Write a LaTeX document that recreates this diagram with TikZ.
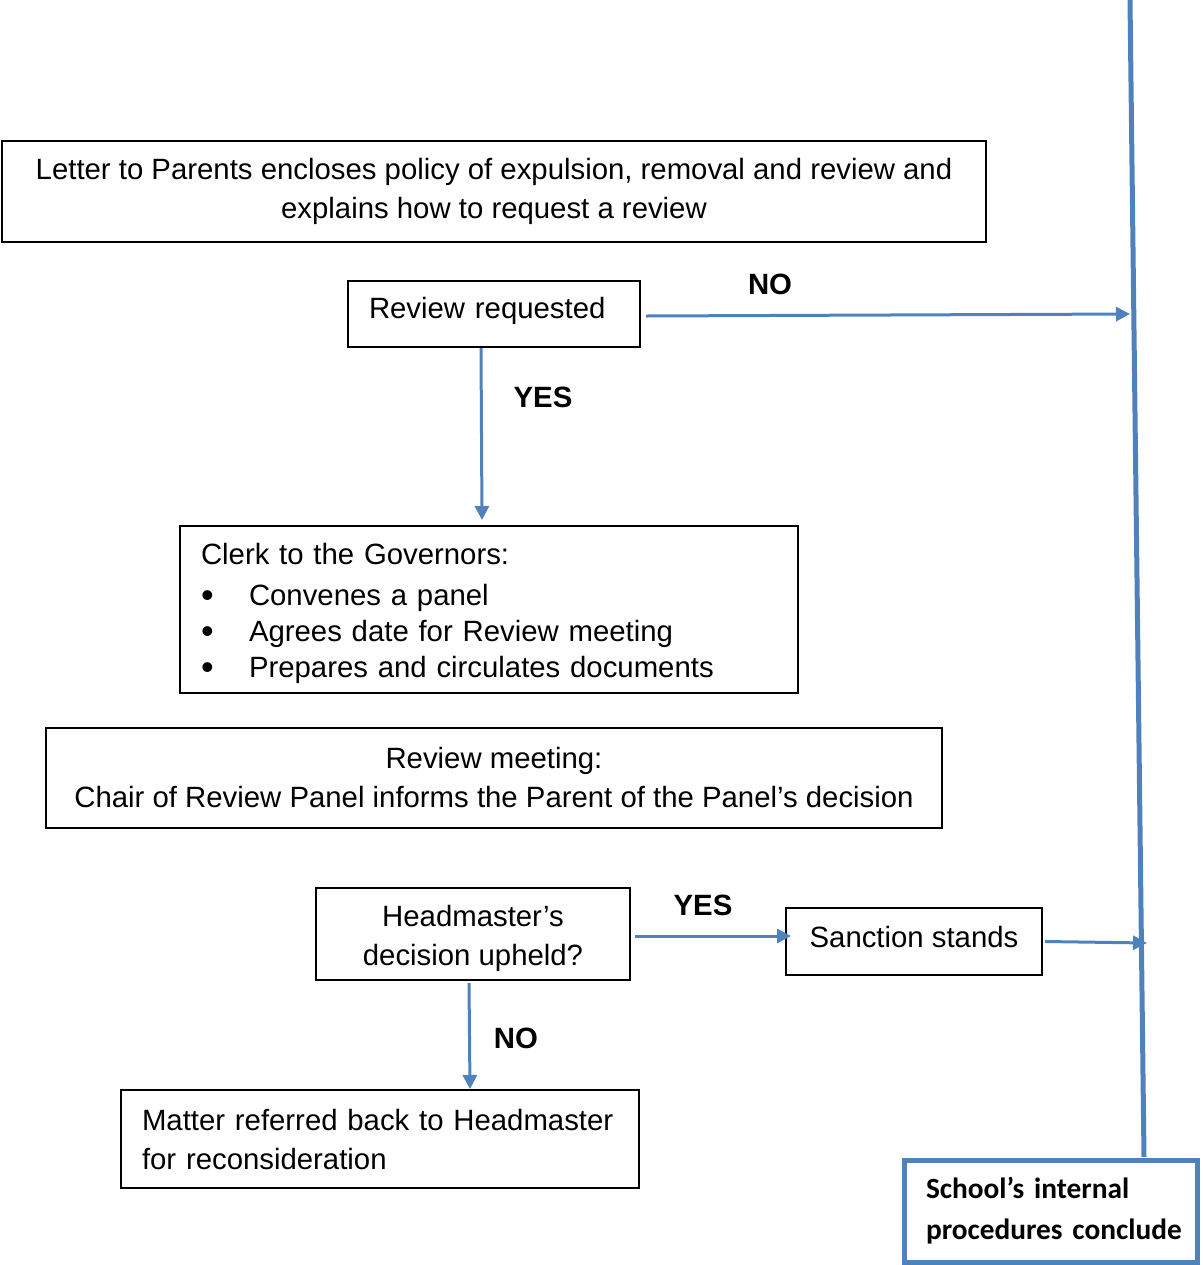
\documentclass[tikz,border=0pt]{standalone}
\usepackage{fontspec}
\setmainfont{Liberation Sans}
\newfontfamily\carlito{Carlito}
\usepackage{tikz}
\usetikzlibrary{arrows.meta}

\definecolor{officeblue}{RGB}{79,129,189}
\newcommand{\bulletitem}{\makebox[24pt][l]{\raisebox{-1pt}{\fontsize{18}{18}\selectfont\textbullet}}}

\begin{document}
\begin{tikzpicture}[x=0.5pt, y=-0.5pt, font=\fontsize{14.67}{19.5}\selectfont]
      \tikzstyle{box} = [rectangle, draw=black, line width=1pt, inner sep=0pt, align=center]
      \tikzstyle{leftbox} = [box, inner xsep=10.5pt, align=left]
      \tikzstyle{schoolbox} = [rectangle, draw=officeblue, line width=2.5pt, inner sep=0pt, inner xsep=10.75pt, align=left, font=\carlito\bfseries\fontsize{14.67}{20.5}\selectfont]
      \tikzstyle{answer} = [font=\bfseries\fontsize{14.67}{19.5}\selectfont]
      \tikzstyle{arrow} = [draw=officeblue, line width=1.5pt, -{Triangle[length=7pt, width=7pt]}]
      \tikzstyle{mainline} = [draw=officeblue, line width=2.5pt]

      \useasboundingbox (0,0) rectangle (1203,1265);

      \node (letter) [box, minimum width=492pt, minimum height=50.5pt] at (494,191.5) {Letter to Parents encloses policy of expulsion, removal and review and\\explains how to request a review};
      \node (request) [leftbox, minimum width=146pt, minimum height=33pt, text width=125pt, text depth=6pt] at (494,314) {Review requested};
      \node (clerk) [leftbox, minimum width=309pt, minimum height=83.5pt, text width=288pt, text height=14.7pt, text depth=59.6pt, font=\fontsize{14.67}{18}\selectfont] at (489,609.5) {Clerk to the Governors:\\[2.5pt]
            \bulletitem Convenes a panel\\
            \bulletitem Agrees date for Review meeting\\
            \bulletitem Prepares and circulates documents};
      \node (meeting) [box, minimum width=448pt, minimum height=50pt] at (494,778) {Review meeting:\\Chair of Review Panel informs the Parent of the Panel’s decision};
      \node (upheld) [box, minimum width=157pt, minimum height=46pt, text height=34.2pt, text depth=3.1pt] at (473,934) {Headmaster’s\\decision upheld?};
      \node (sanction) [box, minimum width=128pt, minimum height=33.5pt, text depth=5pt] at (914,941.5) {Sanction stands};
      \node (matter) [leftbox, minimum width=258pt, minimum height=49pt, text width=238pt] at (380,1139) {Matter referred back to Headmaster\\for reconsideration};
      \node (school) [schoolbox, minimum width=146.5pt, minimum height=51pt, text width=125pt] at (1051,1211) {\mbox{School’s internal}\\\mbox{procedures conclude}};

      % answers
      \node (noRequest) [answer] at (770,284) {NO};
      \node (yesRequest) [answer] at (543,397) {YES};
      \node (yesUpheld) [answer] at (703,905) {YES};
      \node (noUpheld) [answer] at (516,1038) {NO};

      % line down to the end
      \coordinate (top) at (1130,0);
      \coordinate (foot) at (1144,1157);
      \coordinate (noHit) at (1130,314);
      \coordinate (sanctionHit) at (1147,943);

      \draw [mainline] (top) -- (foot);

      \draw [arrow] ([xshift=2.5pt, yshift=-1pt]request.east) -- (noHit);
      \draw [arrow] ([xshift=-6.5pt]request.south) -- ([xshift=-3.5pt, yshift=2.5pt]clerk.north);
      \draw [arrow] ([xshift=2pt, yshift=-1pt]upheld.east) -- ([xshift=3pt, yshift=2.75pt]sanction.west);
      \draw [arrow] ([xshift=1pt]sanction.east) -- (sanctionHit);
      \draw [arrow] ([xshift=-2pt, yshift=-1pt]upheld.south) -- ([xshift=45pt]matter.north);

    \end{tikzpicture}
\end{document}
